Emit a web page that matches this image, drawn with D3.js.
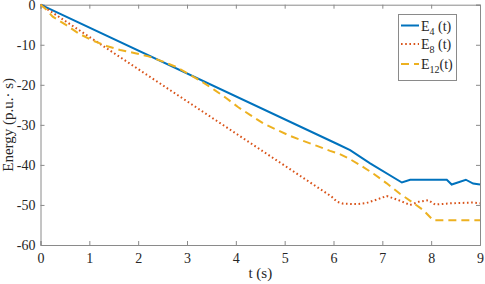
<!DOCTYPE html>
<html>
<head>
<meta charset="utf-8">
<script src="https://cdn.jsdelivr.net/npm/d3@7"></script>
<style>
  body { margin: 0; background: #fff; }
  svg text { font-family: "Liberation Serif", "Times New Roman", Times, "DejaVu Serif", serif !important; fill: #262626; }
</style>
</head>
<body>
<div id="chart"></div>
<script>
var width = 485,
	height = 284;

var margin = { left: 40.5, right: 5, top: 4.7, bottom: 39 };

// values
var xTicks = [0, 1, 2, 3, 4, 5, 6, 7, 8, 9];
var yTicks = [-60, -50, -40, -30, -20, -10, 0];

var e4 = [
	[0, 0], [6.1, -34.9], [6.34, -36.3], [6.75, -39.6], [7.40, -44.4], [7.57, -43.7],
	[8.32, -43.7], [8.42, -44.9], [8.71, -43.7], [8.86, -44.65], [9, -44.9]
];

var e8 = [
	[0, 0], [5.96, -47.9], [6.07, -49.2], [6.2, -49.7], [6.48, -49.8], [6.68, -49.5],
	[6.9, -48.6], [7.09, -47.75], [7.33, -48.8], [7.57, -50], [7.75, -49.2], [7.94, -48.8],
	[8.08, -49.9], [8.39, -49.6], [8.6, -49.5], [8.86, -49.4], [9, -49.6]
];

var e12 = [
	[0, 0], [0.1, -1.0], [0.25, -3], [0.53, -5.1], [0.77, -7.1], [1.04, -8.8], [1.35, -10.3],
	[1.63, -11.3], [1.94, -12.1], [2.21, -12.9], [2.51, -14.2], [2.79, -15.6], [3.05, -17.4],
	[3.3, -19.2], [3.56, -21.25], [3.8, -23.3], [4.05, -25.6], [4.29, -27.5], [4.56, -29.6],
	[4.84, -31.25], [5.11, -32.75], [5.38, -34], [5.66, -35.25], [5.93, -36.5], [6.13, -37.3],
	[6.3, -38.3], [6.54, -40], [6.82, -42.2], [7.09, -44.6], [7.36, -47.2], [7.6, -49.2],
	[7.84, -51.3], [8.04, -53.8], [9, -53.8]
];

var series = [
	{ name: '4', sp: ' ', data: e4, color: '#0072BD', dash: null },
	{ name: '8', sp: ' ', data: e8, color: '#D95319', dash: '1.6,2.6' },
	{ name: '12', sp: '', data: e12, color: '#EDB120', dash: '8,5' }
];

var svg = d3.select('#chart').append('svg')
	.attr('width', width)
	.attr('height', height);

var x = d3.scaleLinear().domain([0, 9]).range([margin.left, width - margin.right]);
var y = d3.scaleLinear().domain([-60, 0]).range([height - margin.bottom, margin.top]);

var axisColor = '#8a8a8a';

// axes, ticks inward on all four sides
var xb = svg.append('g').attr('transform', 'translate(0,' + y(-60) + ')')
	.call(d3.axisBottom(x).tickValues(xTicks).tickSize(-4).tickPadding(8).tickFormat(d3.format('d')));
var xt = svg.append('g').attr('transform', 'translate(0,' + y(0) + ')')
	.call(d3.axisTop(x).tickValues(xTicks).tickSize(-4).tickFormat(''));
var yl = svg.append('g').attr('transform', 'translate(' + x(0) + ',0)')
	.call(d3.axisLeft(y).tickValues(yTicks).tickSize(-4).tickPadding(5).tickFormat(d3.format('d')));
var yr = svg.append('g').attr('transform', 'translate(' + x(9) + ',0)')
	.call(d3.axisRight(y).tickValues(yTicks).tickSize(-4).tickFormat(''));

[xb, xt, yl, yr].forEach(function(a) {
	a.attr('font-family', null);
	a.selectAll('path').attr('stroke', axisColor).attr('stroke-width', 1);
	a.selectAll('line').attr('stroke', axisColor);
	a.selectAll('text').attr('font-size', 14).attr('fill', '#262626');
});
yl.selectAll('text').text(function(d) { return d === 0 ? '0' : '-' + Math.abs(d); });

var line = d3.line()
	.x(function(d) { return x(d[0]); })
	.y(function(d) { return y(d[1]); });

series.forEach(function(s) {
	svg.append('path')
		.datum(s.data)
		.attr('fill', 'none')
		.attr('stroke', s.color)
		.attr('stroke-width', 2)
		.attr('stroke-dasharray', s.dash)
		.attr('d', line);
});

// axis titles
svg.append('text')
	.attr('x', (x(0) + x(9)) / 2)
	.attr('y', 278)
	.attr('text-anchor', 'middle')
	.attr('font-size', 15)
	.text('t (s)');

svg.append('text')
	.attr('transform', 'translate(13,' + ((y(0) + y(-60)) / 2) + ') rotate(-90)')
	.attr('text-anchor', 'middle')
	.attr('font-size', 15)
	.text('Energy (p.u.\u00b7 s)');

// legend
var lg = svg.append('g');
lg.append('rect')
	.attr('x', 398.5).attr('y', 14.5)
	.attr('width', 58).attr('height', 66)
	.attr('fill', '#fff')
	.attr('stroke', axisColor);

var rowY = [25.5, 44, 64];
series.forEach(function(s, i) {
	lg.append('line')
		.attr('x1', 401).attr('x2', 419)
		.attr('y1', rowY[i]).attr('y2', rowY[i])
		.attr('stroke', s.color)
		.attr('stroke-width', 2)
		.attr('stroke-dasharray', s.dash);
	var t = lg.append('text')
		.attr('x', 421).attr('y', rowY[i] + 5)
		.attr('font-size', 14);
	t.append('tspan').text('E');
	t.append('tspan').attr('dy', 4).attr('font-size', 10).text(s.name);
	t.append('tspan').attr('dy', -4).text(s.sp + '(t)');
});
</script>
</body>
</html>
